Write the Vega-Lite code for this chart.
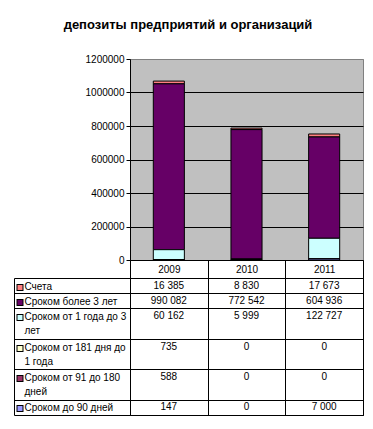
{
  "$schema": "https://vega.github.io/schema/vega-lite/v6.json",
  "padding": {"left": 12, "top": 18, "right": 5, "bottom": 5},
  "background": "white",
  "title": {"text": "депозиты предприятий и организаций", "font": "Liberation Sans", "fontSize": 13, "fontWeight": "bold", "color": "black", "anchor": "middle", "frame": "bounds", "offset": 22},
  "datasets": {
    "deposits": [
      {"year": 2009, "series": "Счета", "value": 16385},
      {"year": 2009, "series": "Сроком более 3 лет", "value": 990082},
      {"year": 2009, "series": "Сроком от 1 года до 3 лет", "value": 60162},
      {"year": 2009, "series": "Сроком от 181 дня до 1 года", "value": 735},
      {"year": 2009, "series": "Сроком от 91 до 180 дней", "value": 588},
      {"year": 2009, "series": "Сроком до 90 дней", "value": 147},
      {"year": 2010, "series": "Счета", "value": 8830},
      {"year": 2010, "series": "Сроком более 3 лет", "value": 772542},
      {"year": 2010, "series": "Сроком от 1 года до 3 лет", "value": 5999},
      {"year": 2010, "series": "Сроком от 181 дня до 1 года", "value": 0},
      {"year": 2010, "series": "Сроком от 91 до 180 дней", "value": 0},
      {"year": 2010, "series": "Сроком до 90 дней", "value": 0},
      {"year": 2011, "series": "Счета", "value": 17673},
      {"year": 2011, "series": "Сроком более 3 лет", "value": 604936},
      {"year": 2011, "series": "Сроком от 1 года до 3 лет", "value": 122727},
      {"year": 2011, "series": "Сроком от 181 дня до 1 года", "value": 0},
      {"year": 2011, "series": "Сроком от 91 до 180 дней", "value": 0},
      {"year": 2011, "series": "Сроком до 90 дней", "value": 7000}
    ]
  },
  "bounds": "flush",
  "spacing": 18,
  "vconcat": [
    {
      "width": 233,
      "height": 201,
      "view": {"fill": "#C0C0C0", "stroke": "#808080"},
      "data": {"name": "deposits"},
      "transform": [
        {"calculate": "indexof(['Сроком до 90 дней', 'Сроком от 91 до 180 дней', 'Сроком от 181 дня до 1 года', 'Сроком от 1 года до 3 лет', 'Сроком более 3 лет', 'Счета'], datum.series)", "as": "rank"}
      ],
      "mark": {"type": "bar", "stroke": "black", "strokeWidth": 1, "width": {"band": 0.4}},
      "encoding": {
        "x": {
          "field": "year", "type": "ordinal",
          "scale": {"domain": [2009, 2010, 2011], "paddingInner": 0, "paddingOuter": 0},
          "axis": {"title": null, "tickBand": "extent", "tickSize": 18, "labelAngle": 0, "labelBaseline": "middle", "labelPadding": -9, "grid": false}
        },
        "y": {
          "field": "value", "type": "quantitative", "stack": "zero",
          "scale": {"domain": [0, 1200000], "nice": false},
          "axis": {
            "title": null,
            "values": [0, 200000, 400000, 600000, 800000, 1000000, 1200000],
            "format": "d",
            "grid": true,
            "gridColor": {"condition": {"test": "datum.value == 1200000", "value": "#808080"}, "value": "black"},
            "tickSize": 4,
            "labelPadding": 2
          }
        },
        "color": {
          "field": "series", "type": "nominal",
          "scale": {
            "domain": ["Счета", "Сроком более 3 лет", "Сроком от 1 года до 3 лет", "Сроком от 181 дня до 1 года", "Сроком от 91 до 180 дней", "Сроком до 90 дней"],
            "range": ["#FF8080", "#660066", "#CCFFFF", "#FFFFCC", "#993366", "#9999FF"]
          },
          "legend": null
        },
        "order": {"field": "rank", "type": "quantitative"}
      }
    },
    {
      "width": 233,
      "height": 137,
      "view": {"fill": "white", "stroke": "black"},
      "data": {"name": "deposits"},
      "encoding": {
        "x": {
          "field": "year", "type": "ordinal",
          "scale": {"domain": [2009, 2010, 2011], "paddingInner": 0, "paddingOuter": 0},
          "axis": {"title": null, "labels": false, "ticks": false, "domain": false, "grid": true, "tickBand": "extent"}
        },
        "text": {"field": "value", "type": "quantitative", "format": ",d"}
      },
      "layer": [
        {
          "transform": [{"filter": "datum.year == 2009"}],
          "mark": {"type": "text", "font": "Liberation Sans", "fontSize": 10, "baseline": "middle", "align": "center", "color": "black"},
          "encoding": {
            "y": {
              "field": "series", "type": "nominal",
              "scale": {"type": "band", "domain": ["Счета", "Сроком более 3 лет", "Сроком от 1 года до 3 лет", "·1", "Сроком от 181 дня до 1 года", "·2", "Сроком от 91 до 180 дней", "·3", "Сроком до 90 дней"], "paddingInner": 0, "paddingOuter": 0},
              "axis": {"orient": "left", "title": null, "values": ["Счета", "Сроком более 3 лет", "·1", "·2", "·3", "Сроком до 90 дней"], "tickBand": "extent", "tickSize": 116, "grid": true, "labels": false, "domain": false}
            }
          }
        },
        {
          "transform": [{"filter": "datum.year == 2010"}],
          "mark": {"type": "text", "font": "Liberation Sans", "fontSize": 10, "baseline": "middle", "align": "center", "color": "black"},
          "encoding": {
            "y": {
              "field": "series", "type": "nominal",
              "scale": {"type": "band", "domain": ["Счета", "Сроком более 3 лет", "Сроком от 1 года до 3 лет", "·1", "Сроком от 181 дня до 1 года", "·2", "Сроком от 91 до 180 дней", "·3", "Сроком до 90 дней"], "paddingInner": 0, "paddingOuter": 0},
              "axis": {
                "orient": "left", "title": null,
                "values": ["Счета", "Сроком более 3 лет", "Сроком от 1 года до 3 лет", "Сроком от 181 дня до 1 года", "Сроком от 91 до 180 дней", "Сроком до 90 дней"],
                "offset": 116, "domain": true, "ticks": false, "labels": false, "grid": false
              }
            }
          }
        },
        {
          "transform": [{"filter": "datum.year == 2011 && datum.value > 0"}],
          "mark": {"type": "text", "font": "Liberation Sans", "fontSize": 10, "baseline": "middle", "align": "center", "color": "black"},
          "encoding": {
            "y": {
              "field": "series", "type": "nominal",
              "scale": {"type": "band", "domain": ["Счета", "Сроком более 3 лет", "Сроком от 1 года до 3 лет", "·1", "Сроком от 181 дня до 1 года", "·2", "Сроком от 91 до 180 дней", "·3", "Сроком до 90 дней"], "paddingInner": 0, "paddingOuter": 0},
              "axis": {
                "orient": "left", "title": null,
                "values": ["Счета", "Сроком более 3 лет", "Сроком от 1 года до 3 лет", "Сроком от 181 дня до 1 года", "Сроком от 91 до 180 дней", "Сроком до 90 дней"],
                "offset": 107, "domain": false, "ticks": true, "tickSize": 7, "tickWidth": 7, "tickColor": "black", "tickOffset": 1,
                "labels": false, "grid": false
              }
            }
          }
        },
        {
          "transform": [{"filter": "datum.year == 2011 && datum.value == 0"}],
          "mark": {"type": "text", "font": "Liberation Sans", "fontSize": 10, "baseline": "middle", "align": "center", "color": "black"},
          "encoding": {
            "y": {
              "field": "series", "type": "nominal",
              "scale": {"type": "band", "domain": ["Счета", "Сроком более 3 лет", "Сроком от 1 года до 3 лет", "·1", "Сроком от 181 дня до 1 года", "·2", "Сроком от 91 до 180 дней", "·3", "Сроком до 90 дней"], "paddingInner": 0, "paddingOuter": 0},
              "axis": {
                "orient": "left", "title": null,
                "values": ["Счета", "Сроком более 3 лет", "Сроком от 1 года до 3 лет", "Сроком от 181 дня до 1 года", "Сроком от 91 до 180 дней", "Сроком до 90 дней"],
                "offset": 108, "domain": false, "ticks": true, "tickSize": 5, "tickWidth": 5, "tickOffset": 1,
                "tickColor": {
                  "condition": [
                    {"test": "datum.value === 'Счета'", "value": "#FF8080"},
                    {"test": "datum.value === 'Сроком более 3 лет'", "value": "#660066"},
                    {"test": "datum.value === 'Сроком от 1 года до 3 лет'", "value": "#CCFFFF"},
                    {"test": "datum.value === 'Сроком от 181 дня до 1 года'", "value": "#FFFFCC"},
                    {"test": "datum.value === 'Сроком от 91 до 180 дней'", "value": "#993366"}
                  ],
                  "value": "#9999FF"
                },
                "grid": false,
                "labelAlign": "left", "labelPadding": -7, "labelBaseline": "top", "labelOffset": -5.5,
                "labelLineHeight": 14, "labelLimit": 0, "labelOverlap": false,
                "labelExpr": "length(datum.label) > 20 ? [substring(datum.label, 0, lastindexof(substring(datum.label, 0, 22), ' ')), substring(datum.label, lastindexof(substring(datum.label, 0, 22), ' ') + 1)] : datum.label"
              }
            }
          }
        }
      ],
      "resolve": {"axis": {"y": "independent"}}
    }
  ],
  "config": {
    "locale": {"number": {"decimal": ",", "thousands": " ", "grouping": [3], "currency": ["", ""]}},
    "axis": {
      "labelFont": "Liberation Sans", "labelFontSize": 10, "labelColor": "black",
      "domainColor": "black", "domainWidth": 1, "tickColor": "black", "tickWidth": 1,
      "gridColor": "black", "gridOpacity": 1, "gridWidth": 1
    }
  }
}
